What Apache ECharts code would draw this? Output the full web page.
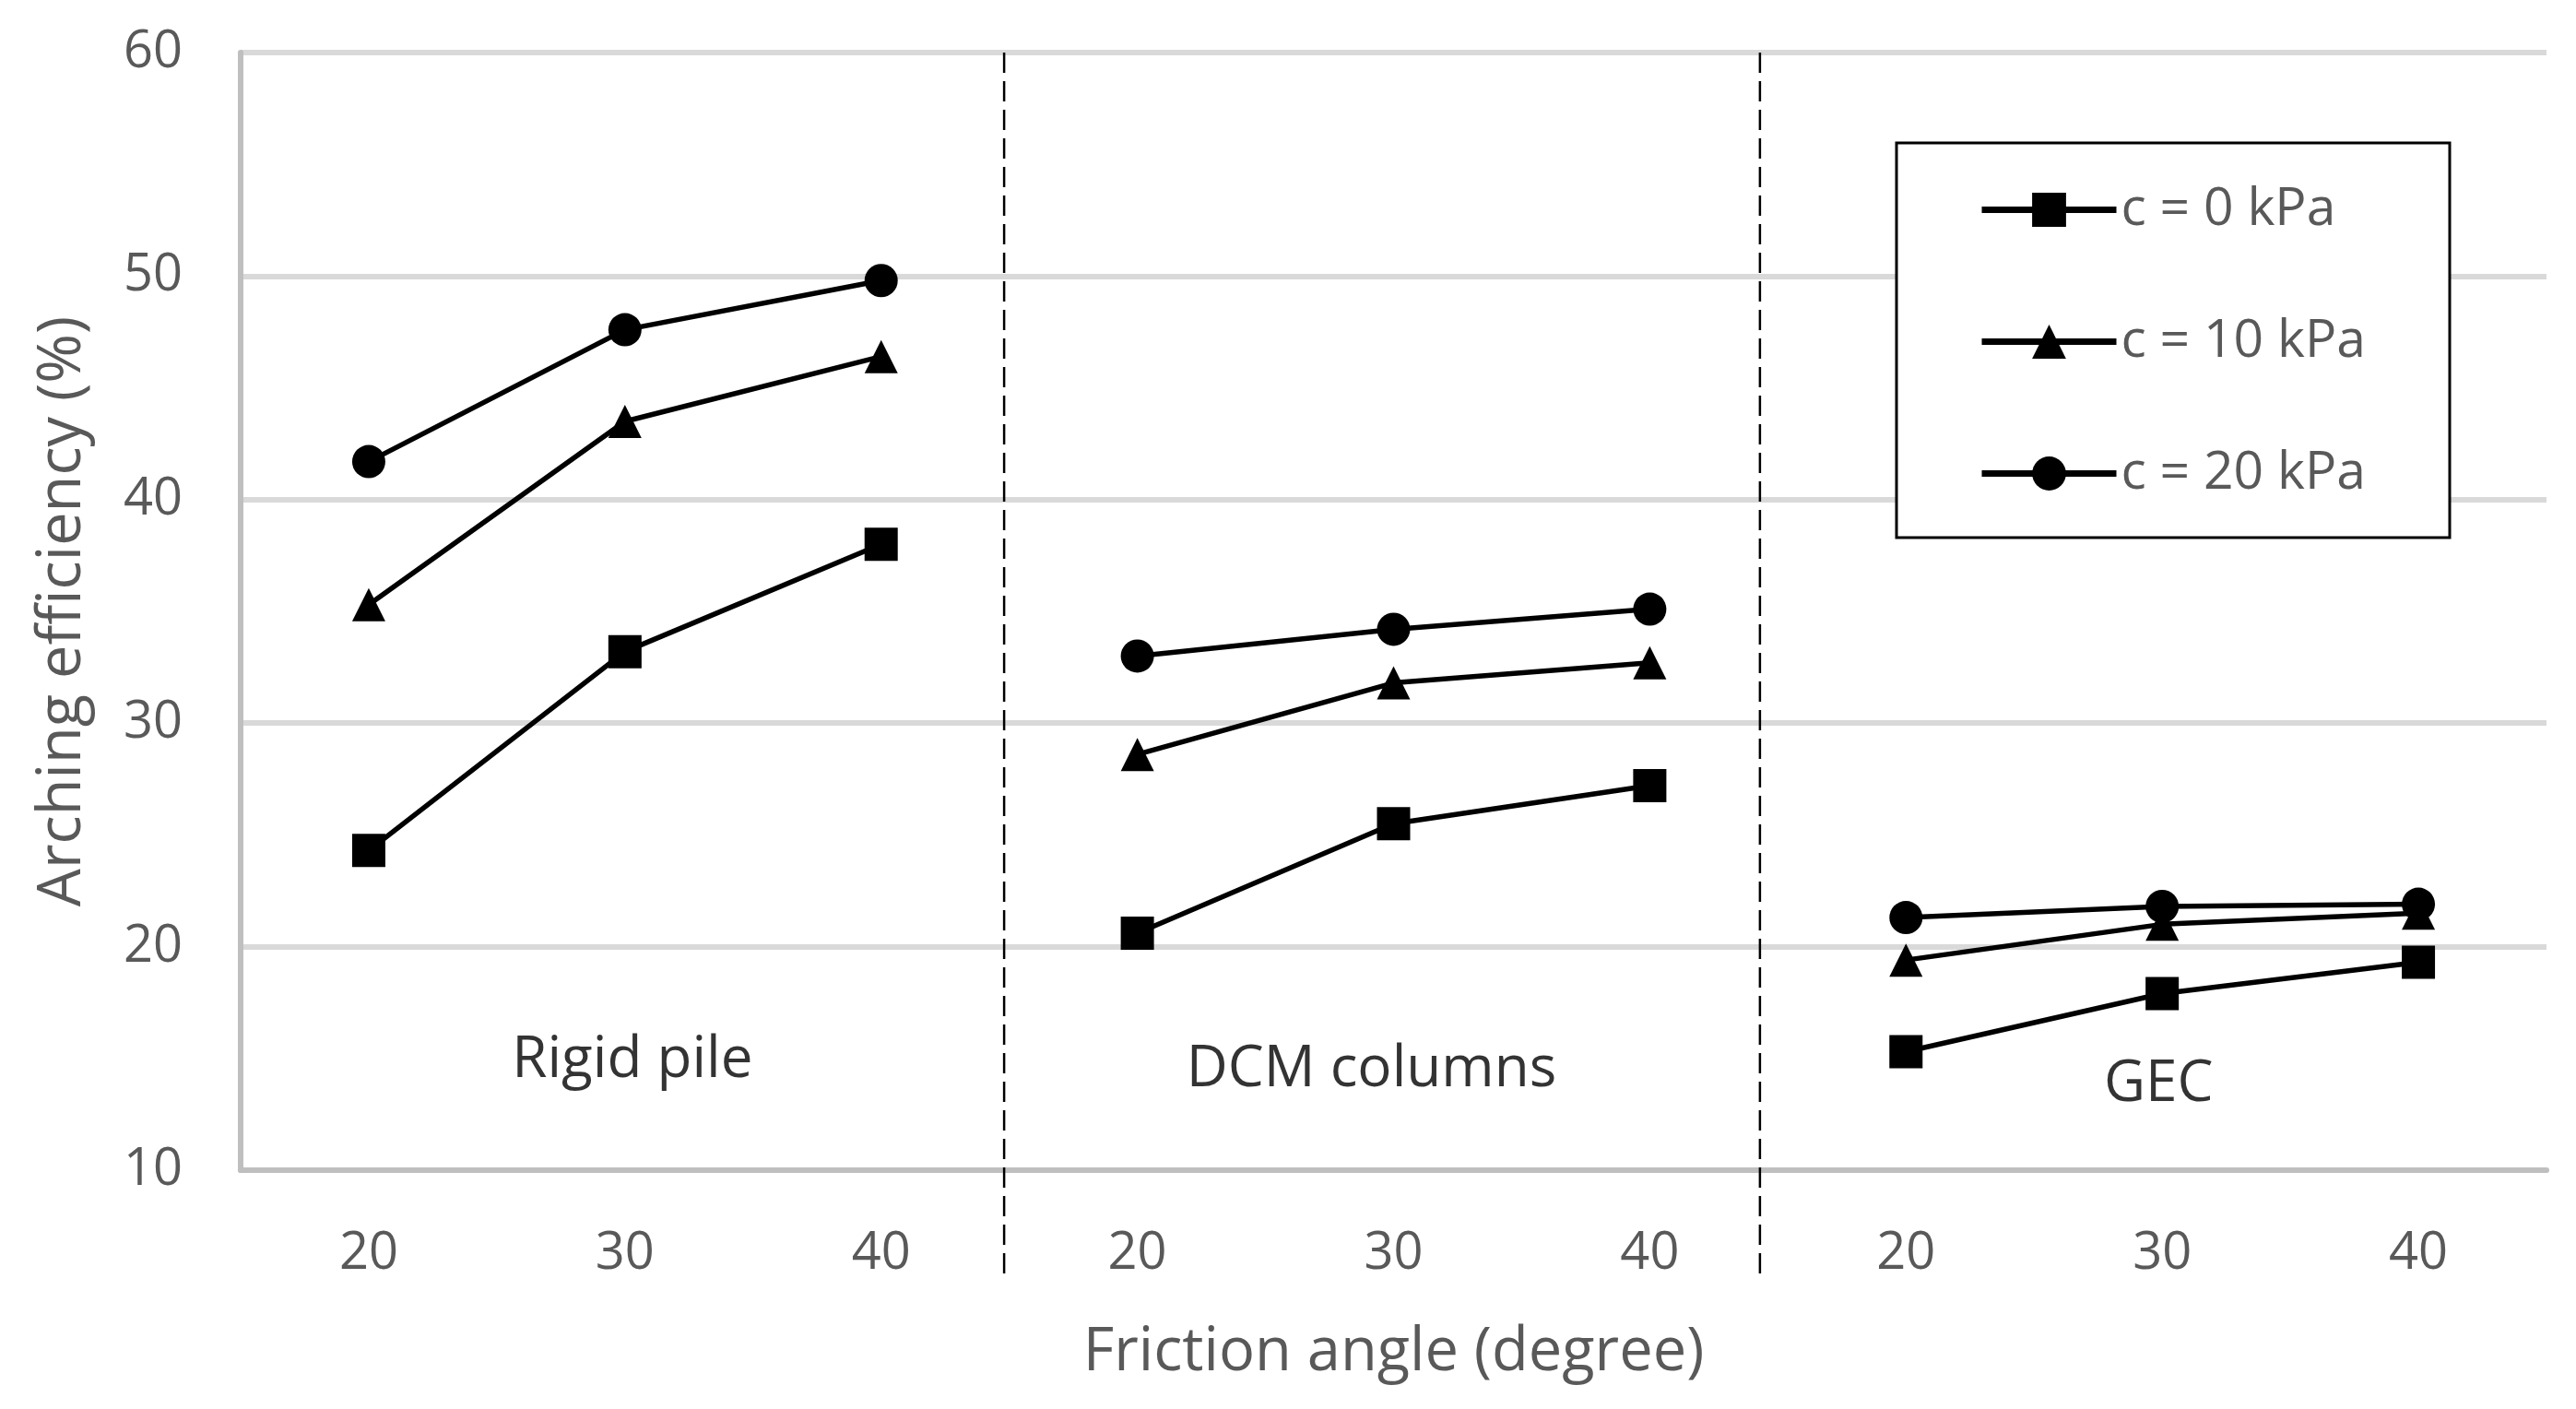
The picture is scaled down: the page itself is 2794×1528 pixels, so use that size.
<!DOCTYPE html>
<html><head><meta charset="utf-8">
<script src="https://cdn.jsdelivr.net/npm/echarts@6/dist/echarts.min.js"></script>
<style>html,body{margin:0;padding:0;background:#fff}#chart{width:2794px;height:1528px}</style>
</head><body><div id="chart"></div>
<script>
const groups = ['Rigid pile', 'DCM columns', 'GEC'];
const angles = ['20', '30', '40'];
const seriesNames = ['c = 0 kPa', 'c = 10 kPa', 'c = 20 kPa'];
const c0  = [24.3, 33.2, 38.0, 20.6, 25.5, 27.2, 15.3, 17.9, 19.3];
const c10 = [35.3, 43.5, 46.4, 28.6, 31.8, 32.7, 19.4, 21.0, 21.5];
const c20 = [41.7, 47.6, 49.8, 33.0, 34.2, 35.1, 21.3, 21.8, 21.9];
const yMin = 10, yMax = 60, yStep = 10;

const FONT = 'Open Sans';
const GRAY = '#595959';
const categories = groups.flatMap(g => angles.map(a => g + '|' + a));
const values = [c0, c10, c20];
const symbols = ['rect', 'triangle', 'circle'];

const series = [];
values.forEach((vals, si) => {
  groups.forEach((g, gi) => {
    series.push({
      name: seriesNames[si], type: 'line',
      data: vals.map((v, i) => Math.floor(i / 3) === gi ? v : '-'),
      symbol: symbols[si], symbolSize: 36, showSymbol: true,
      lineStyle: { color: '#000', width: 5.5 },
      itemStyle: { color: '#000' },
      z: 3 + si, connectNulls: false, silent: true
    });
  });
});
series.push({
  type: 'scatter', name: 'groupLabels', silent: true,
  data: [
    { value: [categories[1], 14.9], label: { offset: [8, 0] } },
    { value: [categories[4], 14.47], label: { offset: [-24, 0] } },
    { value: [categories[7], 13.81], label: { offset: [-4, 0] } }
  ],
  symbolSize: 1, itemStyle: { color: 'rgba(0,0,0,0)' },
  label: { show: true, position: 'inside', formatter: p => groups[p.dataIndex],
    fontFamily: FONT, fontSize: 62, color: '#000' }
});

const chart = echarts.init(document.getElementById('chart'), null, { renderer: 'canvas' });
const option = {
  animation: false,
  backgroundColor: '#fff',
  grid: { left: 261, right: 32, top: 57, bottom: 259, containLabel: false },
  legend: {
    data: seriesNames, orient: 'vertical', left: 2146, top: 199, padding: 0,
    itemWidth: 146, itemHeight: 46, itemGap: 86, itemTextGap: 14,
    lineStyle: { width: 7, color: '#000' },
    textStyle: { fontFamily: FONT, fontSize: 57, color: GRAY }, z: 10
  },
  xAxis: {
    type: 'category', data: categories, boundaryGap: true,
    axisLine: { show: true, lineStyle: { color: '#bfbfbf', width: 6 } },
    axisTick: { show: false },
    axisLabel: { formatter: v => v.split('|')[1], fontFamily: FONT, fontSize: 56, color: GRAY, margin: 63 },
    splitLine: { show: false },
    name: 'Friction angle (degree)', nameLocation: 'middle', nameGap: 166,
    nameTextStyle: { fontFamily: FONT, fontSize: 65, color: GRAY }
  },
  yAxis: {
    type: 'value', min: yMin, max: yMax, interval: yStep,
    axisLine: { show: true, lineStyle: { color: '#bfbfbf', width: 6 } },
    axisTick: { show: false },
    axisLabel: { fontFamily: FONT, fontSize: 56, color: GRAY, margin: 63 },
    splitLine: { show: true, lineStyle: { color: '#d9d9d9', width: 6 } },
    name: 'Arching efficiency (%)', nameLocation: 'middle', nameGap: 160, nameRotate: 90,
    nameTextStyle: { fontFamily: FONT, fontSize: 65, color: GRAY }
  },
  series
};
chart.setOption(option);

const toX = i => {
  const p = chart.convertToPixel({ xAxisIndex: 0 }, categories[i]);
  return Array.isArray(p) ? p[0] : p;
};
const toY = v => {
  const p = chart.convertToPixel({ yAxisIndex: 0 }, v);
  return Array.isArray(p) ? p[1] : p;
};
const yTop = toY(yMax);
const yBot = toY(yMin) + 118;
const d1 = toX(2) + 0.48 * (toX(3) - toX(2));
const d2 = toX(5) + 0.43 * (toX(6) - toX(5));
const dash = x => ({ type: 'line', shape: { x1: x, y1: yTop, x2: x, y2: yBot },
  style: { stroke: '#000', lineWidth: 2.5, lineDash: [22, 9] }, z: 5, silent: true });
chart.setOption({
  graphic: [
    dash(d1), dash(d2),
    { type: 'rect', shape: { x: 2057, y: 155, width: 600, height: 428 },
      style: { fill: '#fff', stroke: '#000', lineWidth: 3 }, z: 6, silent: true }
  ]
});
</script></body></html>
